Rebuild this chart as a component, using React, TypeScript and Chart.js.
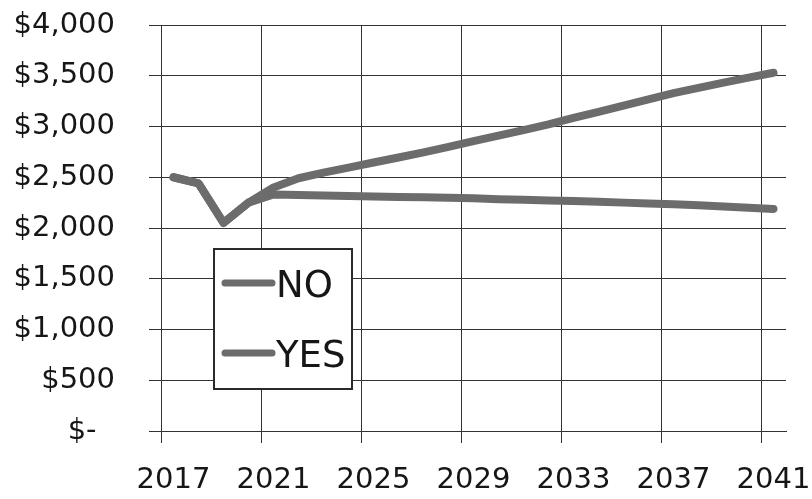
import React, { useEffect, useRef } from "react";
import { Chart, registerables } from "chart.js";

Chart.register(...registerables);

const years = [
  "2017", "2018", "2019", "2020", "2021", "2022", "2023", "2024", "2025",
  "2026", "2027", "2028", "2029", "2030", "2031", "2032", "2033", "2034",
  "2035", "2036", "2037", "2038", "2039", "2040", "2041",
];

const xTickLabels = ["2017", "2021", "2025", "2029", "2033", "2037", "2041"];

const noValues = [
  2500, 2440, 2050, 2250, 2400, 2490, 2545, 2595, 2645, 2695, 2745, 2800,
  2855, 2910, 2965, 3020, 3085, 3145, 3205, 3268, 3328, 3380, 3432, 3482, 3530,
];

const yesValues = [
  2500, 2440, 2050, 2250, 2330, 2325, 2320, 2315, 2310, 2306, 2302, 2298,
  2293, 2284, 2278, 2272, 2265, 2258, 2250, 2242, 2234, 2224, 2213, 2200, 2188,
];

const seriesLabels = ["NO", "YES"];

const LINE_COLOR = "#6c6c6c";
const GRID_COLOR = "#333333";
const TEXT_COLOR = "#161616";
const FONT = "DejaVu Sans";

const boxLegend = {
  id: "boxLegend",
  afterDatasetsDraw(chart: any) {
    const { ctx, chartArea } = chart;
    const x = Math.round(chartArea.left + 53);
    const y = Math.round(chartArea.top + 224);
    const w = 138;
    const h = 140;
    ctx.save();
    ctx.fillStyle = "#ffffff";
    ctx.fillRect(x, y, w, h);
    ctx.strokeStyle = "#2a2a2a";
    ctx.lineWidth = 2;
    ctx.strokeRect(x, y, w, h);
    chart.data.datasets.forEach((ds: any, i: number) => {
      const baseline = y + 48 + i * 70;
      ctx.strokeStyle = ds.borderColor;
      ctx.lineWidth = 7;
      ctx.lineCap = "round";
      ctx.beginPath();
      ctx.moveTo(x + 11, baseline - 14);
      ctx.lineTo(x + 58, baseline - 14);
      ctx.stroke();
      ctx.fillStyle = TEXT_COLOR;
      ctx.font = `37px "${FONT}"`;
      ctx.textAlign = "left";
      ctx.textBaseline = "alphabetic";
      ctx.fillText(ds.label, x + 62, baseline);
    });
    ctx.restore();
  },
};

export default function App() {
  const canvasRef = useRef<HTMLCanvasElement>(null);

  useEffect(() => {
    const canvas = canvasRef.current;
    if (!canvas) return;
    const chart = new Chart(canvas, {
      type: "line",
      data: {
        labels: years,
        datasets: [
          {
            label: seriesLabels[0],
            data: noValues,
            borderColor: LINE_COLOR,
            backgroundColor: LINE_COLOR,
            borderWidth: 8,
            borderCapStyle: "round",
            borderJoinStyle: "round",
            pointRadius: 0,
            tension: 0,
          },
          {
            label: seriesLabels[1],
            data: yesValues,
            borderColor: LINE_COLOR,
            backgroundColor: LINE_COLOR,
            borderWidth: 8,
            borderCapStyle: "round",
            borderJoinStyle: "round",
            pointRadius: 0,
            tension: 0,
          },
        ],
      },
      options: {
        responsive: false,
        animation: false,
        layout: { padding: { top: 25, right: 26, bottom: 0, left: 0 } },
        plugins: {
          legend: { display: false },
          tooltip: { enabled: false },
        },
        scales: {
          x: {
            type: "category",
            offset: true,
            afterFit: (scale: any) => {
              scale.height = 68;
              scale.paddingLeft = 0;
              scale.paddingRight = 0;
            },
            grid: {
              offset: true,
              drawTicks: true,
              tickLength: 12,
              lineWidth: 1,
              color: (ctx: any) =>
                ctx.index !== undefined && xTickLabels.includes(years[ctx.index])
                  ? GRID_COLOR
                  : "rgba(0,0,0,0)",
            },
            border: { display: true, color: GRID_COLOR, width: 1 },
            ticks: {
              autoSkip: false,
              maxRotation: 0,
              minRotation: 0,
              padding: 20,
              color: TEXT_COLOR,
              font: { family: FONT, size: 29 },
              callback: (_v: any, idx: number) =>
                xTickLabels.includes(years[idx]) ? years[idx] : "",
            },
          },
          y: {
            min: 0,
            max: 4000,
            afterFit: (scale: any) => {
              scale.width = 161;
              scale.paddingTop = 0;
              scale.paddingBottom = 0;
            },
            grid: {
              color: GRID_COLOR,
              lineWidth: 1,
              drawTicks: true,
              tickLength: 12,
            },
            border: { display: true, color: GRID_COLOR, width: 1 },
            ticks: {
              stepSize: 500,
              padding: 34,
              color: TEXT_COLOR,
              font: { family: FONT, size: 29 },
              callback: (v: any) =>
                Number(v) === 0
                  ? "$-\u2007"
                  : "$" + Number(v).toLocaleString("en-US"),
            },
          },
        },
      },
      plugins: [boxLegend],
    });
    return () => chart.destroy();
  }, []);

  return (
    <div
      style={{
        position: "absolute",
        left: 0,
        top: 0,
        width: 812,
        height: 499,
        background: "#ffffff",
      }}
    >
      <canvas
        ref={canvasRef}
        width={812}
        height={499}
        style={{ display: "block", width: 812, height: 499 }}
      />
    </div>
  );
}
